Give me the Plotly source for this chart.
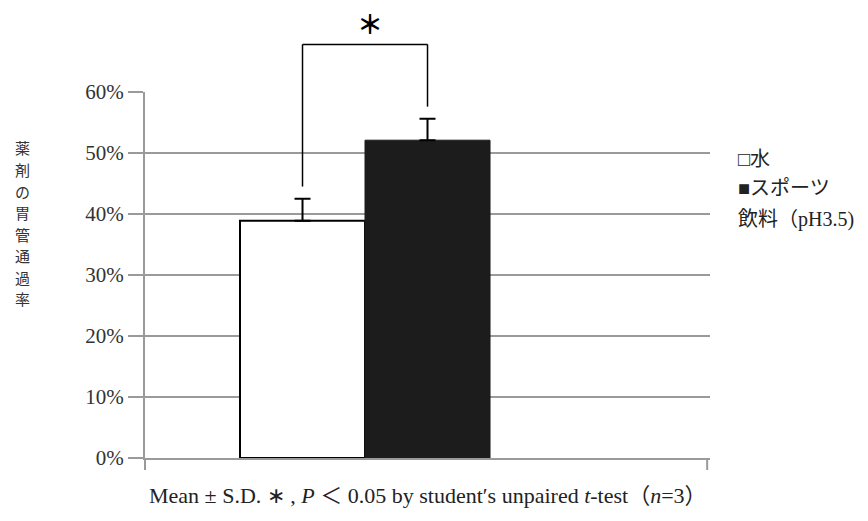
import plotly.graph_objects as go

# ---- data ----
category = [""]
series_names = ["水", "スポーツ飲料（pH3.5)"]
means = [0.389, 0.521]
sds = [0.036, 0.035]
y_tickvals = [0, 0.1, 0.2, 0.3, 0.4, 0.5, 0.6]
y_ticktext = ["0%", "10%", "20%", "30%", "40%", "50%", "60%"]
y_title_chars = ["薬", "剤", "の", "胃", "管", "通", "過", "率"]
legend_lines = ["□水", "■スポーツ", "飲料（pH3.5)"]
caption = ("Mean ± S.D. ∗ , <i>P</i> ＜ 0.05 by student′s unpaired "
           "<i>t</i>-test（<i>n</i>=3）")

# ---- layout params ----
W, H = 868, 521
ML, MR, MT, MB = 145, 158, 92, 63
PW, PH = W - ML - MR, H - MT - MB
YMAX = 0.6
group_center_frac = 0.3894   # group center as fraction of x domain
group_width_frac = 0.4425    # group width as fraction of x domain
xr = [-group_center_frac, 1 - group_center_frac]
bargap = 1 - group_width_frac

SERIF = "Liberation Serif, Noto Sans CJK JP, serif"
CJK = "Noto Sans CJK JP, sans-serif"
GRID = "#9a9a9a"


def px_x(px):
    return (px - ML) / PW


def px_y(px):
    return (H - MB - px) / PH


fig = go.Figure()
fig.add_trace(go.Bar(
    x=category, y=[means[0]], name=series_names[0],
    marker=dict(color="white", line=dict(color="black", width=2)),
    error_y=dict(type="data", symmetric=False, array=[sds[0]], arrayminus=[0],
                 color="black", thickness=2, width=8),
))
fig.add_trace(go.Bar(
    x=category, y=[means[1]], name=series_names[1],
    marker=dict(color="#1c1c1c", line=dict(color="#1c1c1c", width=1)),
    error_y=dict(type="data", symmetric=False, array=[sds[1]], arrayminus=[0],
                 color="black", thickness=2, width=8),
))

fig.update_layout(
    width=W, height=H,
    margin=dict(l=ML, r=MR, t=MT, b=MB),
    paper_bgcolor="white", plot_bgcolor="white",
    barmode="group", bargap=bargap, bargroupgap=0,
    showlegend=False,
    font=dict(family=SERIF, color="#333"),
)
fig.update_xaxes(range=xr, showticklabels=False, showgrid=False,
                 showline=True, linecolor=GRID, linewidth=2, zeroline=False,
                 ticks="")
fig.update_yaxes(range=[0, YMAX], tickvals=y_tickvals, ticktext=y_ticktext,
                 showgrid=True, gridcolor=GRID, gridwidth=2,
                 showline=True, linecolor=GRID, linewidth=2,
                 ticks="outside", ticklen=15, tickcolor=GRID, tickwidth=2,
                 tickfont=dict(family=SERIF, size=21, color="#333"),
                 zeroline=False)

# significance bracket (positions derived from bar layout)
left_c = group_center_frac - group_width_frac / 4
right_c = group_center_frac + group_width_frac / 4
gap = 0.02
top = 0.678
lb = (means[0] + sds[0] + gap) / YMAX
rb = (means[1] + sds[1] + gap) / YMAX
tp = top / YMAX
line = dict(color="black", width=1.5)
fig.add_shape(type="line", xref="paper", yref="paper", x0=left_c, x1=left_c, y0=lb, y1=tp, line=line)
fig.add_shape(type="line", xref="paper", yref="paper", x0=left_c, x1=right_c, y0=tp, y1=tp, line=line)
fig.add_shape(type="line", xref="paper", yref="paper", x0=right_c, x1=right_c, y0=rb, y1=tp, line=line)

# axis extension ticks at bottom (category boundaries)
ext = -12 / PH
for xx in [0, 0.995]:
    fig.add_shape(type="line", xref="paper", yref="paper", x0=xx, x1=xx, y0=0, y1=ext,
                  line=dict(color=GRID, width=2))

# significance asterisk
fig.add_annotation(xref="paper", yref="paper", x=(left_c + right_c) / 2 + 0.008, y=px_y(23),
                   text="<b>＊</b>", showarrow=False,
                   font=dict(size=26, color="black", family=CJK),
                   xanchor="center", yanchor="middle")

# y-axis title (vertical stacked characters)
y0_px = 148
for i, ch in enumerate(y_title_chars):
    fig.add_annotation(xref="paper", yref="paper", x=px_x(22), y=px_y(y0_px + 21.5 * i),
                       text=ch, showarrow=False,
                       font=dict(size=15, color="#333", family=CJK),
                       xanchor="center", yanchor="middle")

# legend text
legend_y_px = [159, 188, 219]
for txt, ypx in zip(legend_lines, legend_y_px):
    fig.add_annotation(xref="paper", yref="paper", x=px_x(736),
                       y=px_y(ypx), text=txt, showarrow=False,
                       font=dict(size=20, color="#222", family=SERIF),
                       xanchor="left", yanchor="middle")

# caption
fig.add_annotation(xref="paper", yref="paper", x=px_x(428),
                   y=px_y(495), text=caption, showarrow=False,
                   font=dict(size=22, color="#222", family=SERIF),
                   xanchor="center", yanchor="middle")

fig.write_html("out.html")
